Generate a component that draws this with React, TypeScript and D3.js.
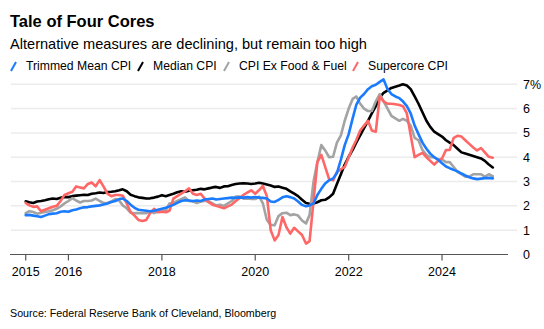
import React from "react";
import * as d3 from "d3";

// Monthly data, Feb 2015 .. Feb 2025 (year-over-year %, Cleveland Fed / BLS)
const startYear = 2015;
const startMonth = 1; // February (0-based)

const trimmedMean = [
  1.62, 1.63, 1.6, 1.57, 1.54, 1.6, 1.66, 1.68, 1.7, 1.76, 1.78,
  1.76, 1.82, 1.85, 1.9, 1.94, 1.95, 1.98, 2.0, 2.02, 2.06, 2.1, 2.16,
  2.2, 2.28, 2.3, 2.2, 2.05, 1.92, 1.84, 1.82, 1.8, 1.78, 1.8, 1.84,
  1.88, 1.92, 1.98, 2.04, 2.12, 2.2, 2.23, 2.22, 2.2, 2.22, 2.2, 2.26,
  2.28, 2.3, 2.26, 2.28, 2.3, 2.32, 2.34, 2.33, 2.35, 2.34, 2.36, 2.34,
  2.36, 2.34, 2.33, 2.3, 2.18, 2.16, 2.25, 2.35, 2.4, 2.36, 2.3, 2.18,
  2.04, 1.98, 2.02, 2.1, 2.45, 2.7, 2.92, 3.05, 3.13, 3.35, 3.9, 4.5,
  4.95, 5.6, 6.15, 6.45, 6.6, 6.8, 6.92, 6.98, 7.1, 7.2, 6.8, 6.6,
  6.5, 6.43, 6.3, 6.1, 5.8, 5.3, 4.95, 4.6, 4.35, 4.15, 4.0, 3.9,
  3.75, 3.62, 3.55, 3.48, 3.42, 3.33, 3.25, 3.18, 3.13, 3.1, 3.12, 3.14,
  3.15, 3.13,
];

const medianCpi = [
  2.19, 2.15, 2.12, 2.18, 2.2, 2.23, 2.27, 2.3, 2.28, 2.33, 2.37,
  2.36, 2.4, 2.42, 2.44, 2.46, 2.45, 2.5, 2.52, 2.55, 2.53, 2.57, 2.58,
  2.6, 2.64, 2.68, 2.6, 2.46, 2.4, 2.35, 2.33, 2.3, 2.31, 2.34, 2.38,
  2.44, 2.4, 2.45, 2.5, 2.56, 2.6, 2.58, 2.62, 2.64, 2.66, 2.7, 2.68,
  2.72, 2.76, 2.78, 2.74, 2.8, 2.81, 2.86, 2.9, 2.92, 2.93, 2.92, 2.9,
  2.92, 2.95, 2.92, 2.88, 2.84, 2.78, 2.8, 2.75, 2.7, 2.6, 2.5, 2.4,
  2.25, 2.12, 2.09, 2.1, 2.15, 2.23, 2.25, 2.35, 2.5, 2.9, 3.3, 3.7,
  4.02, 4.3, 4.6, 4.9, 5.2, 5.5, 5.8, 6.1, 6.45, 6.65, 6.75, 6.85,
  6.9, 6.95, 7.0, 6.95, 6.8, 6.5, 6.2, 5.85, 5.5, 5.25, 5.05, 4.95,
  4.85, 4.7, 4.6, 4.5, 4.35, 4.2, 4.15, 4.1, 4.05, 4.0, 3.95, 3.85,
  3.7, 3.58,
];

const cpiExFoodFuel = [
  1.7, 1.78, 1.75, 1.68, 1.72, 1.75, 1.78, 1.82, 1.88, 1.98, 2.1,
  2.2, 2.32, 2.22, 2.14, 2.2, 2.2, 2.22, 2.3, 2.2, 2.12, 2.12, 2.18,
  2.28, 2.22, 2.02, 1.9, 1.72, 1.7, 1.7, 1.7, 1.7, 1.78, 1.7, 1.78,
  1.8, 1.82, 2.1, 2.12, 2.2, 2.28, 2.35, 2.2, 2.18, 2.12, 2.18, 2.2,
  2.2, 2.1, 2.02, 2.05, 2.0, 2.1, 2.2, 2.38, 2.38, 2.3, 2.3, 2.28,
  2.28, 2.38, 2.1, 1.42, 1.22, 1.2, 1.58, 1.7, 1.72, 1.62, 1.65, 1.6,
  1.4, 1.28, 1.62, 3.0, 3.8, 4.5, 4.28, 4.0, 4.02, 4.6, 4.9, 5.5,
  6.0, 6.4, 6.5, 6.2, 6.0, 5.9, 5.9, 6.3, 6.6, 6.3, 6.0, 5.7,
  5.6, 5.5, 5.58, 5.5, 5.3, 4.8, 4.7, 4.3, 4.1, 4.0, 4.0, 3.9,
  3.9, 3.8, 3.8, 3.6, 3.4, 3.3, 3.2, 3.2, 3.3, 3.3, 3.3, 3.2,
  3.3, 3.22,
];

const supercoreCpi = [
  2.12, 2.02, 1.96, 1.98, 1.78, 1.84, 1.9, 1.96, 2.0, 2.2, 2.45,
  2.52, 2.58, 2.8, 2.76, 2.72, 2.9, 2.96, 2.8, 3.06, 2.8, 2.5, 2.4,
  2.45, 2.45, 2.42, 2.1, 1.75, 1.6, 1.42, 1.38, 1.42, 1.7, 1.88, 1.74,
  1.76, 1.74, 1.8, 2.3, 2.4, 2.5, 2.6, 2.72, 2.5, 2.45, 2.5, 2.3,
  2.15, 2.05, 2.0, 1.95, 1.9, 1.98, 2.05, 2.2, 2.32, 2.45, 2.55, 2.64,
  2.5, 2.65, 2.82, 2.4, 1.0, 0.58, 0.8, 1.54, 1.12, 0.86, 1.1, 0.95,
  0.8, 0.45, 0.55, 2.2, 3.8, 4.1, 3.6, 3.1, 3.05, 3.4, 3.5, 3.6,
  4.0, 4.4, 4.7, 5.1, 5.3, 5.5, 5.1, 5.05, 6.5, 6.3, 6.2, 6.2,
  6.18, 6.15, 6.1, 5.8, 4.9, 4.0, 4.1, 4.18, 4.0, 3.85, 3.7, 3.85,
  3.95, 4.3, 4.3, 4.8, 4.88, 4.85, 4.7, 4.55, 4.4, 4.28, 4.38, 4.2,
  4.02, 3.98,
];

const seriesNames = ["Trimmed Mean CPI", "Median CPI", "CPI Ex Food & Fuel", "Supercore CPI"];
const seriesColors = ["#1a7bff", "#000000", "#a3a3a3", "#ff6666"];
const seriesValues = [trimmedMean, medianCpi, cpiExFoodFuel, supercoreCpi];
const drawOrder = [1, 2, 3, 0];

const yTicks = [0, 1, 2, 3, 4, 5, 6, 7];
const xTickYears = [2016, 2018, 2020, 2022, 2024];

const title = "Tale of Four Cores";
const subtitle = "Alternative measures are declining, but remain too high";
const source = "Source: Federal Reserve Bank of Cleveland, Bloomberg";

// layout
const W = 544;
const H = 329;
const FONT = "'Liberation Sans', Arial, Helvetica, sans-serif";
const legendX = [10, 137, 223, 352];

export default function App() {
  const dates = trimmedMean.map((_, i) => new Date(startYear, startMonth + i, 1));

  const x = d3
    .scaleTime()
    .domain([new Date(2014, 9, 1), new Date(2025, 4, 31)])
    .range([10, 508]);
  const y = d3.scaleLinear().domain([0, 7]).range([254.5, 84.3]);

  const line = (vals: number[]) =>
    d3
      .line<number>()
      .x((_, i) => x(dates[i]))
      .y((v) => y(v))(vals) as string;

  const xTicks = [
    { d: dates[0], label: String(startYear) },
    ...xTickYears.map((yr) => ({ d: new Date(yr, 0, 1), label: String(yr) })),
  ];

  return (
    <svg
      width={W}
      height={H}
      style={{ position: "absolute", left: 0, top: 0, background: "#fff" }}
      fontFamily={FONT}
    >
      <text x={10} y={26.5} fontSize={16.5} fontWeight="bold" fill="#000">
        {title}
      </text>
      <text x={10} y={48.5} fontSize={14.6} fill="#000">
        {subtitle}
      </text>

      {seriesNames.map((name, i) => (
        <g key={name} transform={`translate(${legendX[i]},0)`}>
          <line x1={1} y1={71} x2={6} y2={62} stroke={seriesColors[i]} strokeWidth={2} />
          <text x={16} y={69.5} fontSize={12.2} fill="#000">
            {name}
          </text>
        </g>
      ))}

      {yTicks.slice(1).map((t) => (
        <line key={t} x1={11} x2={517} y1={y(t)} y2={y(t)} stroke="#ececec" strokeWidth={1.5} />
      ))}
      {yTicks.map((t) => (
        <text key={t} x={523} y={y(t)} dy="0.36em" fontSize={12.5} fill="#000">
          {t === 7 ? `${t}%` : t}
        </text>
      ))}

      <line x1={10} x2={508} y1={y(0)} y2={y(0)} stroke="#555" strokeWidth={1.2} />
      {xTicks.map((t) => (
        <g key={t.label}>
          <line x1={x(t.d)} x2={x(t.d)} y1={y(0)} y2={y(0) + 6} stroke="#555" strokeWidth={1.2} />
          <text x={x(t.d)} y={275.5} fontSize={12.5} textAnchor="middle" fill="#000">
            {t.label}
          </text>
        </g>
      ))}

      {drawOrder.map((i) => (
        <path
          key={seriesNames[i]}
          d={line(seriesValues[i])}
          fill="none"
          stroke={seriesColors[i]}
          strokeWidth={2.6}
          strokeLinejoin="round"
          strokeLinecap="round"
        />
      ))}

      <text x={10} y={316.5} fontSize={10.7} fill="#000">
        {source}
      </text>
    </svg>
  );
}
